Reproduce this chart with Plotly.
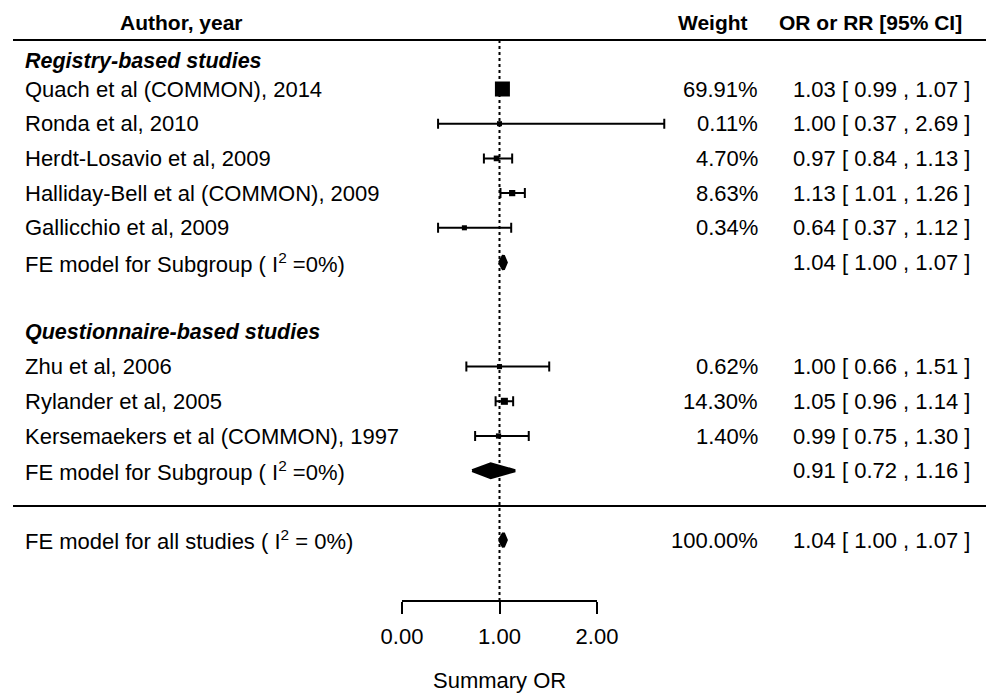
import plotly.graph_objects as go

# ---------------- data ----------------
studies = ["Quach et al (COMMON), 2014", "Ronda et al, 2010", "Herdt-Losavio et al, 2009",
           "Halliday-Bell et al (COMMON), 2009", "Gallicchio et al, 2009",
           "Zhu et al, 2006", "Rylander et al, 2005", "Kersemaekers et al (COMMON), 1997"]
study_rows = [0, 1, 2, 3, 4, 8, 9, 10]
est = [1.03, 1.00, 0.97, 1.13, 0.64, 1.00, 1.05, 0.99]
lo = [0.99, 0.37, 0.84, 1.01, 0.37, 0.66, 0.96, 0.75]
hi = [1.07, 2.69, 1.13, 1.26, 1.12, 1.51, 1.14, 1.30]
weights = [69.91, 0.11, 4.70, 8.63, 0.34, 0.62, 14.30, 1.40]

group_labels = ["Registry-based studies", "Questionnaire-based studies"]
group_rows = [-0.8, 7.0]

summary_labels = ["FE model for Subgroup ( I<sup>2</sup> =0%)",
                  "FE model for Subgroup ( I<sup>2</sup> =0%)",
                  "FE model for all studies ( I<sup>2</sup> = 0%)"]
summary_rows = [5, 11, 13]
sum_est = [1.04, 0.91, 1.04]
sum_lo = [1.00, 0.72, 1.00]
sum_hi = [1.07, 1.16, 1.07]
sum_weight = ["", "", "100.00%"]

tick_vals = [0, 1, 2]
tick_text = ["0.00", "1.00", "2.00"]
headers = ["Author, year", "Weight", "OR or RR [95% CI]"]

# ---------------- layout geometry ----------------
W, H = 986, 694
px_per_unit = 97.5
x0_px = 402
xmin = -x0_px / px_per_unit
xmax = (W - x0_px) / px_per_unit
row_px = 34.7
row0_px = 89
ymin = -row0_px / row_px
ymax = (H - row0_px) / row_px

FONT = "Liberation Sans, Arial, sans-serif"
FS = 22
FSB = 21

fig = go.Figure()

# study points with CI
sizes = [5 + 10 * w / max(weights) for w in weights]
fig.add_trace(go.Scatter(
    x=est, y=study_rows, mode="markers",
    marker=dict(symbol="square", size=sizes, color="black", opacity=1, line=dict(width=0)),
    error_x=dict(type="data", symmetric=False,
                 array=[h - e for h, e in zip(hi, est)],
                 arrayminus=[e - l for e, l in zip(est, lo)],
                 color="black", thickness=2, width=5),
    hoverinfo="skip", showlegend=False))

# summary diamonds
dh = 0.2
for r, e, l, h in zip(summary_rows, sum_est, sum_lo, sum_hi):
    fig.add_trace(go.Scatter(
        x=[l, e, h, e, l], y=[r, r - dh, r, r + dh, r], mode="lines",
        fill="toself", fillcolor="black", line=dict(color="black", width=3),
        hoverinfo="skip", showlegend=False))

# invisible trace so the bottom axis is drawn
fig.add_trace(go.Scatter(x=[tick_vals[0], tick_vals[-1]], y=[ymax, ymax], xaxis="x2", yaxis="y",
                         mode="markers", marker=dict(opacity=0), hoverinfo="skip",
                         showlegend=False))

ann = []
def text(xp, y, s, anchor="left", bold=False, italic=False, size=FS):
    if italic:
        s = "<i>" + s + "</i>"
    if bold:
        s = "<b>" + s + "</b>"
    ann.append(dict(x=xp / W, xref="paper", y=y, yref="y", text=s, showarrow=False,
                    xanchor=anchor, yanchor="middle",
                    font=dict(family=FONT, size=size, color="black")))

header_row = -1.93
text(181, header_row, headers[0], anchor="center", bold=True, size=FSB)
text(713, header_row, headers[1], anchor="center", bold=True, size=FSB)
text(870, header_row, headers[2], anchor="center", bold=True, size=FSB)

for g, r in zip(group_labels, group_rows):
    text(23, r, g, bold=True, italic=True, size=FSB + 0.5)

for s, r, w, e, l, h in zip(studies, study_rows, weights, est, lo, hi):
    text(23, r, s)
    text(760, r, f"{w:.2f}%", anchor="right")
    text(881, r, f"{e:.2f} [ {l:.2f} , {h:.2f} ]", anchor="center")

for s, r, w, e, l, h in zip(summary_labels, summary_rows, sum_weight, sum_est, sum_lo, sum_hi):
    text(23, r, s)
    if w:
        text(760, r, w, anchor="right")
    text(881, r, f"{e:.2f} [ {l:.2f} , {h:.2f} ]", anchor="center")

# axis title
ann.append(dict(x=1, xref="x", y=(680 - row0_px) / row_px, yref="y", text="Summary OR",
                showarrow=False, xanchor="center", yanchor="middle",
                font=dict(family=FONT, size=FS, color="black")))

top_line = (40 - row0_px) / row_px
mid_line = (506 - row0_px) / row_px
axis_y_px = 601
axis_row = (axis_y_px - row0_px) / row_px

shapes = [
    dict(type="line", xref="paper", yref="y", x0=13 / W, x1=1, y0=top_line, y1=top_line,
         line=dict(color="black", width=2)),
    dict(type="line", xref="paper", yref="y", x0=13 / W, x1=1, y0=mid_line, y1=mid_line,
         line=dict(color="black", width=2)),
    dict(type="line", xref="x", yref="y", x0=1, x1=1, y0=top_line, y1=axis_row,
         line=dict(color="black", width=2, dash="dot"), layer="below"),
]

span = xmax - xmin
fig.update_layout(
    width=W, height=H, margin=dict(l=0, r=0, t=0, b=0, pad=0, autoexpand=False),
    paper_bgcolor="white", plot_bgcolor="rgba(0,0,0,0)",
    xaxis=dict(range=[xmin, xmax], visible=False, fixedrange=True, automargin=False),
    yaxis=dict(range=[ymax, ymin], visible=False, fixedrange=True, automargin=False),
    xaxis2=dict(domain=[(tick_vals[0] - xmin) / span, (tick_vals[-1] - xmin) / span],
                range=[tick_vals[0], tick_vals[-1]], anchor="free", automargin=False,
                position=1 - axis_y_px / H, showline=True, linecolor="black", linewidth=2,
                ticks="outside", ticklen=12, tickwidth=2, tickcolor="black",
                tickvals=tick_vals, ticktext=tick_text, showgrid=False, zeroline=False,
                tickfont=dict(family=FONT, size=FS, color="black"),
                ticklabelstandoff=4, fixedrange=True),
    annotations=ann, shapes=shapes, showlegend=False,
)

fig.write_html("out.html", config={"displayModeBar": False},
               post_script="document.body.style.margin='0px';")
